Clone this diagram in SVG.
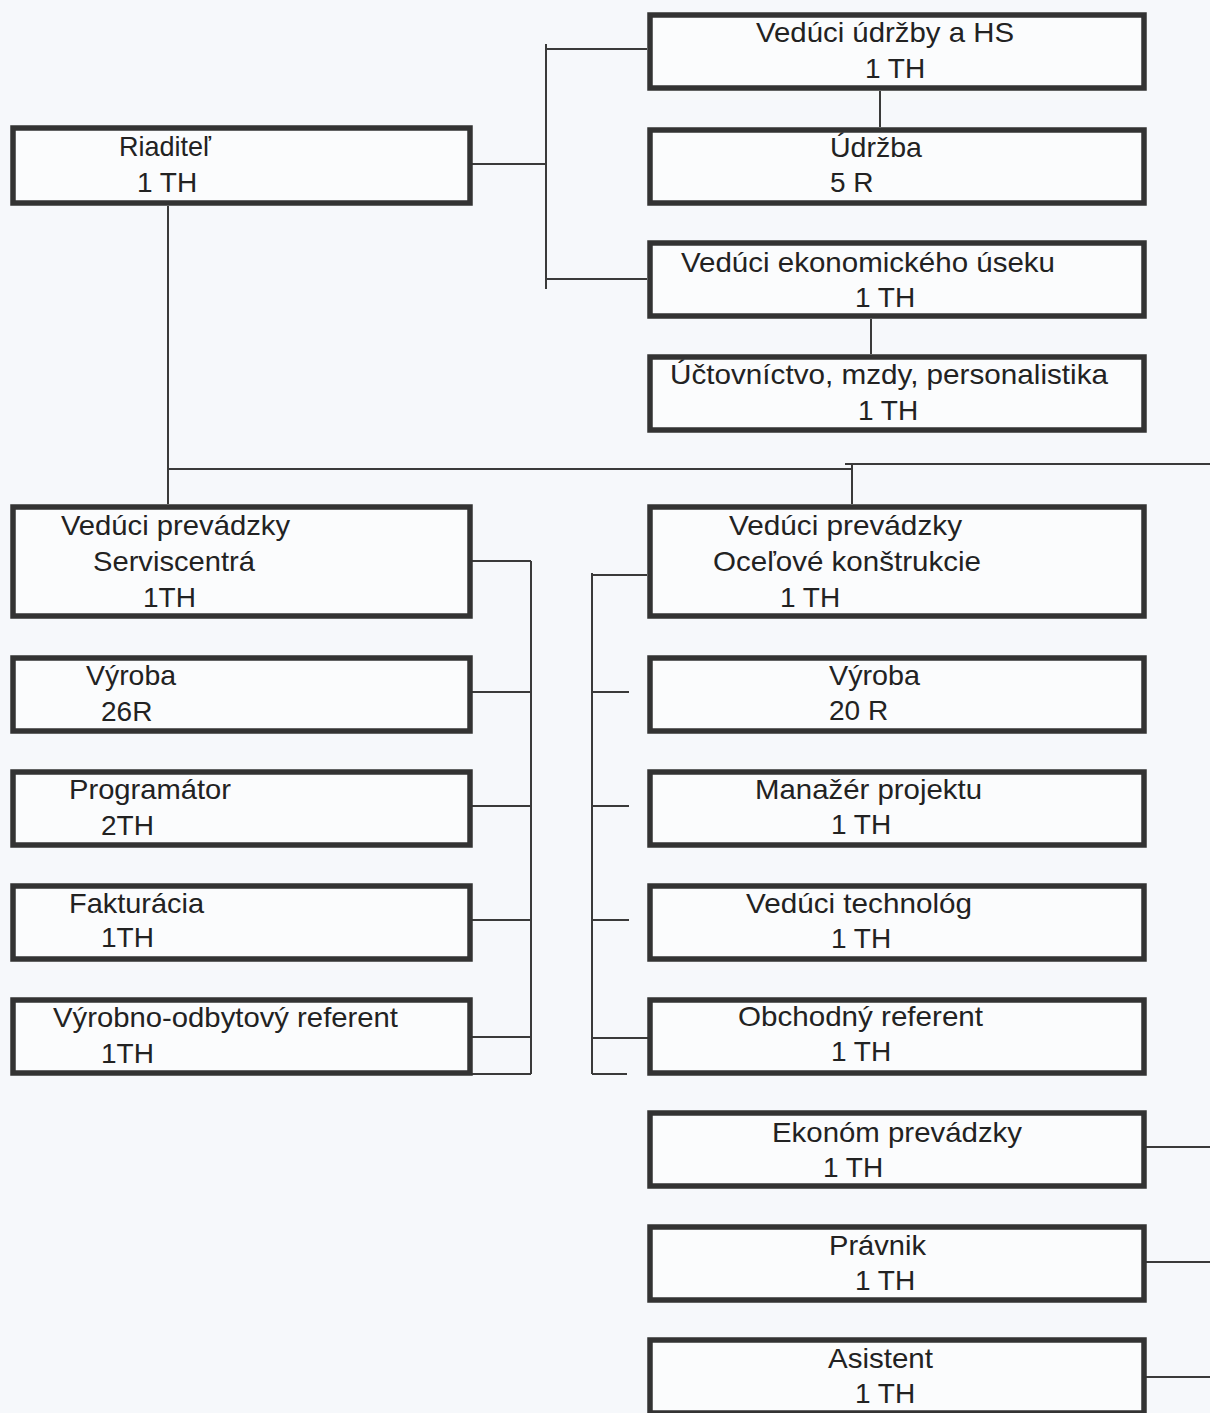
<svg xmlns="http://www.w3.org/2000/svg" width="1210" height="1413" viewBox="0 0 1210 1413">
<style>
.bx{fill:#fbfcfd;stroke:#333;stroke-width:5.5}
.t{font-family:"Liberation Sans",Arial,sans-serif;font-size:28px;fill:#222}
.ln{stroke:#3a3a3a;stroke-width:2;fill:none}
</style>
<rect x="0" y="0" width="1210" height="1413" fill="#f6f8fb"/>
<g id="connectors">
<line class="ln" x1="466" y1="164" x2="546" y2="164"/>
<line class="ln" x1="546" y1="44" x2="546" y2="289"/>
<line class="ln" x1="546" y1="49" x2="647" y2="49"/>
<line class="ln" x1="546" y1="279" x2="647" y2="279"/>
<line class="ln" x1="880" y1="91" x2="880" y2="127"/>
<line class="ln" x1="871" y1="319" x2="871" y2="354"/>
<line class="ln" x1="168" y1="206" x2="168" y2="504"/>
<line class="ln" x1="168" y1="469" x2="852" y2="469"/>
<line class="ln" x1="845" y1="464" x2="1210" y2="464"/>
<line class="ln" x1="852" y1="464" x2="852" y2="504"/>
<line class="ln" x1="531" y1="561" x2="531" y2="1074"/>
<line class="ln" x1="472" y1="561" x2="531" y2="561"/>
<line class="ln" x1="472" y1="692" x2="531" y2="692"/>
<line class="ln" x1="463" y1="806" x2="531" y2="806"/>
<line class="ln" x1="465" y1="920" x2="531" y2="920"/>
<line class="ln" x1="458" y1="1037" x2="531" y2="1037"/>
<line class="ln" x1="472" y1="1074" x2="531" y2="1074"/>
<line class="ln" x1="592" y1="573" x2="592" y2="1074"/>
<line class="ln" x1="592" y1="575" x2="647" y2="575"/>
<line class="ln" x1="592" y1="692" x2="629" y2="692"/>
<line class="ln" x1="592" y1="806" x2="629" y2="806"/>
<line class="ln" x1="592" y1="920" x2="629" y2="920"/>
<line class="ln" x1="592" y1="1038" x2="659" y2="1038"/>
<line class="ln" x1="592" y1="1074" x2="627" y2="1074"/>
<line class="ln" x1="1146" y1="1147" x2="1210" y2="1147"/>
<line class="ln" x1="1140" y1="1262" x2="1210" y2="1262"/>
<line class="ln" x1="1146" y1="1377" x2="1210" y2="1377"/>
</g>
<g id="riaditel">
<rect class="bx" x="13" y="128" width="457" height="75"/>
<text class="t" x="119" y="156" textLength="92" lengthAdjust="spacingAndGlyphs">Riaditeľ</text>
<text class="t" x="137" y="192">1 TH</text>
</g>
<g id="veduci-udrzby">
<rect class="bx" x="650" y="15" width="494" height="73"/>
<text class="t" x="756" y="42" textLength="258" lengthAdjust="spacingAndGlyphs">Vedúci údržby a HS</text>
<text class="t" x="865" y="78">1 TH</text>
</g>
<g id="udrzba">
<rect class="bx" x="650" y="130" width="494" height="73"/>
<text class="t" x="830" y="157" textLength="92" lengthAdjust="spacingAndGlyphs">Údržba</text>
<text class="t" x="830" y="192">5 R</text>
</g>
<g id="veduci-ekonomickeho">
<rect class="bx" x="650" y="243" width="494" height="73"/>
<text class="t" x="681" y="272" textLength="374" lengthAdjust="spacingAndGlyphs">Vedúci ekonomického úseku</text>
<text class="t" x="855" y="307">1 TH</text>
</g>
<g id="uctovnictvo">
<rect class="bx" x="650" y="357" width="494" height="73"/>
<text class="t" x="670" y="384" textLength="438" lengthAdjust="spacingAndGlyphs">Účtovníctvo, mzdy, personalistika</text>
<text class="t" x="858" y="420">1 TH</text>
</g>
<g id="veduci-serviscentra">
<rect class="bx" x="13" y="507" width="457" height="109"/>
<text class="t" x="61" y="535" textLength="229" lengthAdjust="spacingAndGlyphs">Vedúci prevádzky</text>
<text class="t" x="93" y="571" textLength="162" lengthAdjust="spacingAndGlyphs">Serviscentrá</text>
<text class="t" x="143" y="607">1TH</text>
</g>
<g id="vyroba-l">
<rect class="bx" x="13" y="658" width="457" height="73"/>
<text class="t" x="86" y="685" textLength="90" lengthAdjust="spacingAndGlyphs">Výroba</text>
<text class="t" x="101" y="721">26R</text>
</g>
<g id="programator">
<rect class="bx" x="13" y="772" width="457" height="73"/>
<text class="t" x="69" y="799" textLength="162" lengthAdjust="spacingAndGlyphs">Programátor</text>
<text class="t" x="101" y="835">2TH</text>
</g>
<g id="fakturacia">
<rect class="bx" x="13" y="886" width="457" height="73"/>
<text class="t" x="69" y="913" textLength="135" lengthAdjust="spacingAndGlyphs">Fakturácia</text>
<text class="t" x="101" y="947">1TH</text>
</g>
<g id="vyrobno-odbytovy">
<rect class="bx" x="13" y="1000" width="457" height="73"/>
<text class="t" x="53" y="1027" textLength="345" lengthAdjust="spacingAndGlyphs">Výrobno-odbytový referent</text>
<text class="t" x="101" y="1063">1TH</text>
</g>
<g id="veduci-ok">
<rect class="bx" x="650" y="507" width="494" height="109"/>
<text class="t" x="729" y="535" textLength="233" lengthAdjust="spacingAndGlyphs">Vedúci prevádzky</text>
<text class="t" x="713" y="571" textLength="268" lengthAdjust="spacingAndGlyphs">Oceľové konštrukcie</text>
<text class="t" x="780" y="607">1 TH</text>
</g>
<g id="vyroba-r">
<rect class="bx" x="650" y="658" width="494" height="73"/>
<text class="t" x="829" y="685" textLength="91" lengthAdjust="spacingAndGlyphs">Výroba</text>
<text class="t" x="829" y="720">20 R</text>
</g>
<g id="manazer">
<rect class="bx" x="650" y="772" width="494" height="73"/>
<text class="t" x="755" y="799" textLength="227" lengthAdjust="spacingAndGlyphs">Manažér projektu</text>
<text class="t" x="831" y="834">1 TH</text>
</g>
<g id="veduci-technolog">
<rect class="bx" x="650" y="886" width="494" height="73"/>
<text class="t" x="746" y="913" textLength="226" lengthAdjust="spacingAndGlyphs">Vedúci technológ</text>
<text class="t" x="831" y="948">1 TH</text>
</g>
<g id="obchodny">
<rect class="bx" x="650" y="1000" width="494" height="73"/>
<text class="t" x="738" y="1026" textLength="245" lengthAdjust="spacingAndGlyphs">Obchodný referent</text>
<text class="t" x="831" y="1061">1 TH</text>
</g>
<g id="ekonom">
<rect class="bx" x="650" y="1113" width="494" height="73"/>
<text class="t" x="772" y="1142" textLength="250" lengthAdjust="spacingAndGlyphs">Ekonóm prevádzky</text>
<text class="t" x="823" y="1177">1 TH</text>
</g>
<g id="pravnik">
<rect class="bx" x="650" y="1227" width="494" height="73"/>
<text class="t" x="829" y="1255" textLength="97" lengthAdjust="spacingAndGlyphs">Právnik</text>
<text class="t" x="855" y="1290">1 TH</text>
</g>
<g id="asistent">
<rect class="bx" x="650" y="1340" width="494" height="73"/>
<text class="t" x="828" y="1368" textLength="105" lengthAdjust="spacingAndGlyphs">Asistent</text>
<text class="t" x="855" y="1403">1 TH</text>
</g>
</svg>
